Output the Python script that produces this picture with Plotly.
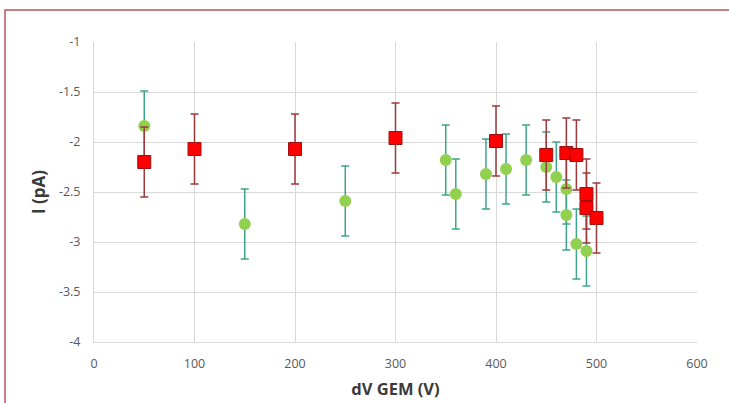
import plotly.graph_objects as go

# Green series (circles)
green_x = [50, 150, 250, 350, 360, 390, 410, 430, 450, 460, 470, 470, 480, 490]
green_y = [-1.84, -2.82, -2.59, -2.18, -2.52, -2.32, -2.27, -2.18, -2.25, -2.35, -2.47, -2.73, -3.02, -3.09]
green_err = [0.35] * len(green_x)

# Red series (squares)
red_x = [50, 100, 200, 300, 400, 450, 470, 480, 490, 490, 500]
red_y = [-2.20, -2.07, -2.07, -1.96, -1.99, -2.13, -2.11, -2.13, -2.52, -2.66, -2.76]
red_err = [0.35] * len(red_x)

x_ticks = [0, 100, 200, 300, 400, 500, 600]
y_ticks = [-4, -3.5, -3, -2.5, -2, -1.5, -1]
y_labels = ["-4", "-3.5", "-3", "-2.5", "-2", "-1.5", "-1"]

fig = go.Figure()
fig.add_trace(go.Scatter(
    x=green_x, y=green_y, mode="markers",
    marker=dict(symbol="circle", size=12, color="#92d050"),
    error_y=dict(type="data", array=green_err, color="#3fa58a", thickness=1.5, width=4),
    showlegend=False,
))
fig.add_trace(go.Scatter(
    x=red_x, y=red_y, mode="markers",
    marker=dict(symbol="square", size=13, color="#ff0000", line=dict(color="#a01010", width=1)),
    error_y=dict(type="data", array=red_err, color="#9b3a3a", thickness=1.5, width=4),
    showlegend=False,
))

L, R, T, B = 94, 697, 42, 342
W, H = 729, 403
def px_to_paper_x(px):
    return (px - L) / (R - L)
def px_to_paper_y(py):
    return (B - py) / (B - T)

fig.add_shape(type="rect", xref="paper", yref="paper",
              x0=px_to_paper_x(5), x1=px_to_paper_x(740),
              y0=px_to_paper_y(420), y1=px_to_paper_y(10),
              line=dict(color="#c0505a", width=1.5), layer="below")

fig.update_layout(
    width=W, height=H,
    margin=dict(l=L, r=W - R, t=T, b=H - B),
    paper_bgcolor="white", plot_bgcolor="white",
    font=dict(family="Open Sans, sans-serif"),
    xaxis=dict(range=[0, 600], tickvals=x_ticks, showgrid=True, gridcolor="#d9d9d9",
               gridwidth=1, zeroline=False, showline=True, linecolor="#d9d9d9",
               automargin=False,
               tickfont=dict(size=12.5, color="#595959"), ticklabelstandoff=10,
               title=dict(text="dV GEM (V)", font=dict(size=16.5, color="#3a3a3a", weight="bold"), standoff=12)),
    yaxis=dict(range=[-4, -1], tickvals=y_ticks, ticktext=y_labels, showgrid=True,
               gridcolor="#d9d9d9", gridwidth=1, zeroline=False, showline=True,
               linecolor="#d9d9d9", tickfont=dict(size=12.5, color="#595959"),
               ticklabelstandoff=10, automargin=False,
               title=dict(text="I (pA)", font=dict(size=17, color="#3a3a3a", weight="bold"), standoff=8)),
)

fig.write_html("out.html")
